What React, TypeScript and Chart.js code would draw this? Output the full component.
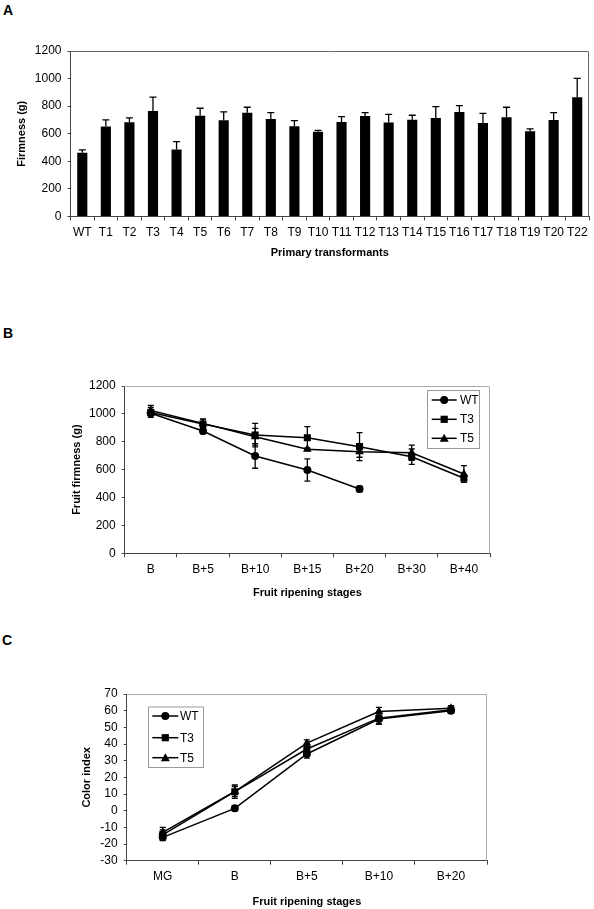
import React, { useEffect, useRef } from "react";
import { Chart, registerables } from "chart.js";
Chart.register(...registerables);

const FONT = "'Liberation Sans', Arial, Helvetica, sans-serif";

// ---------- Panel A data ----------
const transformants = ["WT", "T1", "T2", "T3", "T4", "T5", "T6", "T7", "T8", "T9", "T10", "T11", "T12", "T13", "T14", "T15", "T16", "T17", "T18", "T19", "T20", "T22"];
const firmnessMeans = [463, 652, 683, 765, 485, 731, 698, 753, 707, 654, 615, 686, 729, 681, 702, 715, 758, 678, 719, 618, 700, 864];
const firmnessErrors = [20, 48, 32, 100, 58, 54, 60, 39, 46, 41, 10, 38, 24, 60, 32, 82, 46, 70, 73, 17, 53, 138];
const firmnessAxis = { min: 0, max: 1200, step: 200 };

// ---------- Panel B data ----------
const stagesB = ["B", "B+5", "B+10", "B+15", "B+20", "B+30", "B+40"];
const fruitFirmWT = [1005, 877, 698, 597, 461, null, null];
const fruitFirmWTErr = [20, 20, 88, 80, 20, null, null];
const fruitFirmT3 = [1010, 927, 848, 829, 765, 693, 538];
const fruitFirmT3Err = [35, 35, 84, 79, 100, 55, 15];
const fruitFirmT5 = [1025, 932, 836, 746, 729, 721, 569];
const fruitFirmT5Err = [35, 30, 60, 10, 40, 55, 60];
const fruitFirmAxis = { min: 0, max: 1200, step: 200 };

// ---------- Panel C data ----------
const stagesC = ["MG", "B", "B+5", "B+10", "B+20"];
const colorWT = [-16, 1.4, 34, 55, 60];
const colorWTErr = [2, 1.5, 2.5, 3, 1.5];
const colorT3 = [-14.5, 11.4, 37, 55.5, 60.5];
const colorT3Err = [3, 4, 3, 3.5, 1.5];
const colorT5 = [-13, 11.5, 40.5, 59.5, 61.5];
const colorT5Err = [3, 3, 2, 2.5, 1.5];
const colorAxis = { min: -30, max: 70, step: 10 };

const seriesLabels = ["WT", "T3", "T5"];
const seriesStyles = ["circle", "rect", "triangle"];

function drawMarker(ctx: CanvasRenderingContext2D, style: string, x: number, y: number) {
  ctx.beginPath();
  if (style === "circle") {
    ctx.arc(x, y, 4, 0, Math.PI * 2);
  } else if (style === "rect") {
    ctx.rect(x - 3.6, y - 3.6, 7.2, 7.2);
  } else {
    ctx.moveTo(x, y - 4.5);
    ctx.lineTo(x + 4.5, y + 3.5);
    ctx.lineTo(x - 4.5, y + 3.5);
    ctx.closePath();
  }
  ctx.fill();
}

const errorBarPlugin = {
  id: "errorBars",
  afterDatasetsDraw(chart: any) {
    const { ctx } = chart;
    const y = chart.scales.y;
    chart.data.datasets.forEach((ds: any, di: number) => {
      const errs = ds.errors;
      if (!errs) return;
      const meta = chart.getDatasetMeta(di);
      const cap = ds.capHalf || 3;
      ctx.save();
      ctx.strokeStyle = "#000";
      ctx.lineWidth = 1.3;
      meta.data.forEach((el: any, i: number) => {
        const v = ds.data[i];
        const e = errs[i];
        if (v == null || e == null) return;
        const x = el.x;
        const top = y.getPixelForValue(v + e);
        const bot = ds.upOnly ? y.getPixelForValue(v) : y.getPixelForValue(v - e);
        ctx.beginPath();
        ctx.moveTo(x, top);
        ctx.lineTo(x, bot);
        ctx.moveTo(x - cap, top);
        ctx.lineTo(x + cap, top);
        if (!ds.upOnly) {
          ctx.moveTo(x - cap, bot);
          ctx.lineTo(x + cap, bot);
        }
        ctx.stroke();
      });
      ctx.restore();
    });
  },
};

const framePlugin = {
  id: "frame",
  afterDraw(chart: any, _a: any, opts: any) {
    const { ctx, chartArea } = chart;
    ctx.save();
    ctx.strokeStyle = opts.color || "#999";
    ctx.lineWidth = 1;
    ctx.beginPath();
    ctx.moveTo(chartArea.left, chartArea.top + 0.5);
    ctx.lineTo(chartArea.right - 0.5, chartArea.top + 0.5);
    ctx.lineTo(chartArea.right - 0.5, chartArea.bottom);
    ctx.stroke();
    ctx.restore();
  },
};

const boxLegendPlugin = {
  id: "boxLegend",
  afterDraw(chart: any, _a: any, opts: any) {
    if (!opts || !opts.box) return;
    const { ctx } = chart;
    const [bx, by, bw, bh] = opts.box;
    ctx.save();
    ctx.fillStyle = "#fff";
    ctx.fillRect(bx, by, bw, bh);
    ctx.strokeStyle = "#999";
    ctx.lineWidth = 1;
    ctx.strokeRect(bx + 0.5, by + 0.5, bw, bh);
    chart.data.datasets.forEach((ds: any, i: number) => {
      const ry = opts.rows[i];
      ctx.strokeStyle = "#000";
      ctx.lineWidth = 1.5;
      ctx.beginPath();
      ctx.moveTo(opts.lineX[0], ry);
      ctx.lineTo(opts.lineX[1], ry);
      ctx.stroke();
      ctx.fillStyle = "#000";
      drawMarker(ctx, ds.pointStyle, (opts.lineX[0] + opts.lineX[1]) / 2, ry);
      ctx.font = `12px ${FONT}`;
      ctx.textBaseline = "middle";
      ctx.textAlign = "left";
      ctx.fillText(ds.label, opts.textX, ry + 0.5);
    });
    ctx.restore();
  },
};

function yScale(range: { min: number; max: number; step: number }, title: string, width: number, titlePad: number) {
  return {
    min: range.min,
    max: range.max,
    ticks: {
      stepSize: range.step,
      autoSkip: false,
      color: "#000",
      font: { family: FONT, size: 12 },
      padding: 6,
      callback: (v: any) => String(v),
    },
    grid: { drawOnChartArea: false, drawTicks: true, tickLength: 3, color: "#444" },
    border: { display: true, color: "#444", width: 1 },
    title: { display: true, text: title, color: "#000", font: { family: FONT, size: 11, weight: "bold" as const, lineHeight: 1.2 }, padding: { top: titlePad, bottom: 0 } },
    afterFit: (s: any) => { s.width = width; },
  };
}

function xScale(title: string, height: number, titlePad: number) {
  return {
    offset: true,
    ticks: { color: "#000", font: { family: FONT, size: 12 }, padding: 5, autoSkip: false, maxRotation: 0 },
    grid: { offset: true, drawOnChartArea: false, drawTicks: true, tickLength: 4, color: "#444" },
    border: { display: true, color: "#444", width: 1 },
    title: { display: true, text: title, color: "#000", font: { family: FONT, size: 11, weight: "bold" as const, lineHeight: 1.2 }, padding: { top: 0, bottom: titlePad } },
    afterFit: (s: any) => { s.height = height; },
  };
}

function lineDatasets(values: any[][], errs: any[][]) {
  return values.map((v, i) => ({
    label: seriesLabels[i],
    data: v,
    errors: errs[i],
    capHalf: 3,
    borderColor: "#000",
    borderWidth: 1.5,
    backgroundColor: "#000",
    pointStyle: seriesStyles[i],
    pointRadius: seriesStyles[i] === "circle" ? 4 : 5,
    pointBackgroundColor: "#000",
    pointBorderColor: "#000",
    pointBorderWidth: 0,
    spanGaps: false,
    tension: 0,
  }));
}

function useChart(ref: React.RefObject<HTMLCanvasElement>, make: () => any) {
  useEffect(() => {
    if (!ref.current) return;
    const c = new Chart(ref.current, make());
    return () => c.destroy();
  }, []);
}

const W = 594;

export default function App() {
  const refA = useRef<HTMLCanvasElement>(null);
  const refB = useRef<HTMLCanvasElement>(null);
  const refC = useRef<HTMLCanvasElement>(null);

  const HA = 262, HB = 305, HC = 269;

  useChart(refA, () => ({
    type: "bar",
    data: {
      labels: transformants,
      datasets: [{
        label: "Firmness",
        data: firmnessMeans,
        errors: firmnessErrors,
        upOnly: true,
        capHalf: 3.5,
        backgroundColor: "#000",
        barPercentage: 0.43,
        categoryPercentage: 1,
      }],
    },
    options: {
      responsive: false,
      animation: false,
      devicePixelRatio: 1,
      layout: { padding: { top: 51, left: 0, right: W - 589, bottom: 0 } },
      plugins: { legend: { display: false }, tooltip: { enabled: false }, frame: { color: "#666" } },
      scales: {
        x: xScale("Primary transformants", HA - 216.5, 2.4),
        y: yScale(firmnessAxis, "Firmness (g)", 70.5, 15.4),
      },
    },
    plugins: [errorBarPlugin, framePlugin],
  }));

  useChart(refB, () => ({
    type: "line",
    data: {
      labels: stagesB,
      datasets: lineDatasets([fruitFirmWT, fruitFirmT3, fruitFirmT5], [fruitFirmWTErr, fruitFirmT3Err, fruitFirmT5Err]),
    },
    options: {
      responsive: false,
      animation: false,
      devicePixelRatio: 1,
      layout: { padding: { top: 86, left: 0, right: W - 490, bottom: 0 } },
      plugins: {
        legend: { display: false },
        tooltip: { enabled: false },
        frame: { color: "#aaa" },
        boxLegend: { box: [427, 90, 52, 58], rows: [100, 119.3, 138.3], lineX: [431.7, 456.7], textX: 460 },
      },
      scales: {
        x: xScale("Fruit ripening stages", HB - 253.3, 5.4),
        y: yScale(fruitFirmAxis, "Fruit firmness (g)", 124.7, 70.4),
      },
    },
    plugins: [errorBarPlugin, framePlugin, boxLegendPlugin],
  }));

  useChart(refC, () => ({
    type: "line",
    data: {
      labels: stagesC,
      datasets: lineDatasets([colorWT, colorT3, colorT5], [colorWTErr, colorT3Err, colorT5Err]),
    },
    options: {
      responsive: false,
      animation: false,
      devicePixelRatio: 1,
      layout: { padding: { top: 54, left: 0, right: W - 487, bottom: 0 } },
      plugins: {
        legend: { display: false },
        tooltip: { enabled: false },
        frame: { color: "#aaa" },
        boxLegend: { box: [148, 66.5, 55, 60.5], rows: [76, 97.7, 117.7], lineX: [152.3, 178.3], textX: 180 },
      },
      scales: {
        x: xScale("Fruit ripening stages", HC - 220.7, 0.7),
        y: yScale(colorAxis, "Color index", 126.7, 80.4),
      },
    },
    plugins: [errorBarPlugin, framePlugin, boxLegendPlugin],
  }));

  const letter = (t: string, top: number, left: number) => (
    <div style={{ position: "absolute", left, top, font: `bold 14px ${FONT}`, lineHeight: "14px", color: "#000" }}>{t}</div>
  );

  return (
    <div style={{ position: "absolute", left: 0, top: 0, width: W, height: 909, background: "#fff" }}>
      {letter("A", 3.2, 3)}
      {letter("B", 326, 3)}
      {letter("C", 633, 2)}
      <canvas ref={refA} width={W} height={HA} style={{ position: "absolute", left: 0, top: 0 }} />
      <canvas ref={refB} width={W} height={HB} style={{ position: "absolute", left: 0, top: 300 }} />
      <canvas ref={refC} width={W} height={HC} style={{ position: "absolute", left: 0, top: 640 }} />
    </div>
  );
}
